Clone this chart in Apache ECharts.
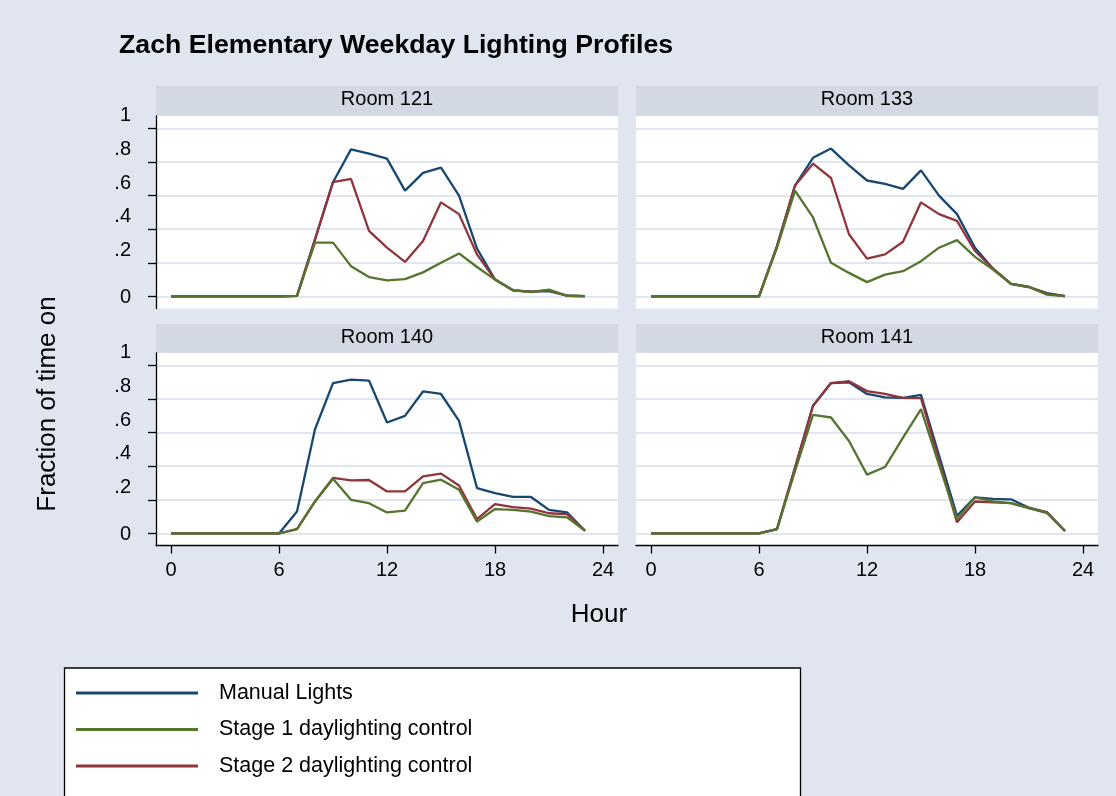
<!DOCTYPE html>
<html>
<head>
<meta charset="utf-8">
<title>Zach Elementary Weekday Lighting Profiles</title>
<script src="https://cdn.jsdelivr.net/npm/echarts@6/dist/echarts.min.js"></script>
<style>
  html, body { margin: 0; padding: 0; background: #e1e5ef; }
  #chart { width: 1116px; height: 796px; }
</style>
</head>
<body>
<div id="chart"></div>
<script>
// Hour of day (weekday average)
const hours = [0, 1, 2, 3, 4, 5, 6, 7, 8, 9, 10, 11, 12, 13, 14, 15, 16, 17, 18, 19, 20, 21, 22, 23];

// Fraction of time the lights are on, per room and control strategy
const room121Manual = [0, 0, 0, 0, 0, 0, 0, 0.003, 0.34, 0.68, 0.875, 0.85, 0.82, 0.63, 0.735, 0.767, 0.6, 0.285, 0.1, 0.036, 0.028, 0.032, 0.004, 0.002];
const room121Stage1 = [0, 0, 0, 0, 0, 0, 0, 0.003, 0.32, 0.32, 0.18, 0.115, 0.095, 0.103, 0.143, 0.2, 0.256, 0.175, 0.1, 0.036, 0.026, 0.04, 0.004, 0.002];
const room121Stage2 = [0, 0, 0, 0, 0, 0, 0, 0.003, 0.34, 0.68, 0.70, 0.39, 0.29, 0.205, 0.33, 0.56, 0.49, 0.25, 0.1, 0.036, 0.028, 0.036, 0.004, 0.002];

const room133Manual = [0, 0, 0, 0, 0, 0, 0, 0.30, 0.66, 0.825, 0.88, 0.78, 0.69, 0.67, 0.64, 0.75, 0.6, 0.49, 0.29, 0.165, 0.075, 0.056, 0.02, 0.002];
const room133Stage1 = [0, 0, 0, 0, 0, 0, 0, 0.29, 0.63, 0.47, 0.2, 0.14, 0.085, 0.13, 0.15, 0.21, 0.29, 0.335, 0.235, 0.16, 0.075, 0.056, 0.01, 0.002];
const room133Stage2 = [0, 0, 0, 0, 0, 0, 0, 0.30, 0.66, 0.79, 0.705, 0.37, 0.225, 0.25, 0.325, 0.56, 0.49, 0.45, 0.27, 0.165, 0.075, 0.056, 0.015, 0.002];

const room140Manual = [0, 0, 0, 0, 0, 0, 0, 0.13, 0.62, 0.895, 0.915, 0.91, 0.66, 0.70, 0.845, 0.83, 0.67, 0.27, 0.24, 0.217, 0.217, 0.14, 0.125, 0.016];
const room140Stage1 = [0, 0, 0, 0, 0, 0, 0, 0.026, 0.19, 0.325, 0.2, 0.18, 0.125, 0.135, 0.3, 0.32, 0.26, 0.07, 0.145, 0.14, 0.13, 0.103, 0.095, 0.016];
const room140Stage2 = [0, 0, 0, 0, 0, 0, 0, 0.026, 0.19, 0.33, 0.316, 0.318, 0.25, 0.25, 0.34, 0.356, 0.285, 0.085, 0.175, 0.157, 0.147, 0.12, 0.115, 0.016];

const room141Manual = [0, 0, 0, 0, 0, 0, 0, 0.026, 0.39, 0.76, 0.895, 0.9, 0.83, 0.81, 0.807, 0.825, 0.465, 0.105, 0.215, 0.205, 0.203, 0.153, 0.125, 0.014];
const room141Stage1 = [0, 0, 0, 0, 0, 0, 0, 0.026, 0.37, 0.705, 0.69, 0.55, 0.35, 0.395, 0.57, 0.74, 0.41, 0.085, 0.215, 0.19, 0.18, 0.15, 0.12, 0.014];
const room141Stage2 = [0, 0, 0, 0, 0, 0, 0, 0.026, 0.39, 0.76, 0.895, 0.906, 0.847, 0.83, 0.807, 0.805, 0.435, 0.066, 0.19, 0.185, 0.18, 0.15, 0.125, 0.014];

// Panel titles and axis ticks
const roomNames = ['Room 121', 'Room 133', 'Room 140', 'Room 141'];
const seriesNames = ['Manual Lights', 'Stage 1 daylighting control', 'Stage 2 daylighting control'];
const xTickValues = [0, 6, 12, 18, 24];
const yTickValues = [0, 0.2, 0.4, 0.6, 0.8, 1];
const yTickLabels = ['0', '.2', '.4', '.6', '.8', '1'];

const panelData = [
  [room121Manual, room121Stage1, room121Stage2],
  [room133Manual, room133Stage1, room133Stage2],
  [room140Manual, room140Stage1, room140Stage2],
  [room141Manual, room141Stage1, room141Stage2]
];

const FONT = '"Liberation Sans", Arial, Helvetica, sans-serif';
const COLORS = { manual: '#1a476f', stage1: '#55752f', stage2: '#90353b' };

// Panel layout (pixels)
const colLeft = [156, 636];
const rowTop = [116, 353];
const panelW = 462;
const panelH = 192.5;
const stripH = [30, 29];

const grids = [], xAxes = [], yAxes = [], series = [], graphics = [];

for (let p = 0; p < 4; p++) {
  const col = p % 2, row = Math.floor(p / 2);
  const isLeft = col === 0, isBottom = row === 1;
  grids.push({
    left: colLeft[col], top: rowTop[row], width: panelW, height: panelH,
    show: true, backgroundColor: '#ffffff', borderWidth: 0
  });
  xAxes.push({
    gridIndex: p, type: 'value', min: -0.8333, max: 24.8333,
    axisLine: { show: isBottom, onZero: false, lineStyle: { color: '#000', width: 1.3 } },
    axisTick: { show: isBottom, length: 8, customValues: xTickValues, lineStyle: { color: '#000', width: 1.3 } },
    axisLabel: {
      show: isBottom, customValues: xTickValues, margin: 15,
      color: '#000', fontSize: 20, fontFamily: FONT
    },
    splitLine: { show: false }
  });
  yAxes.push({
    gridIndex: p, type: 'value', min: -0.072, max: 1.074,
    axisLine: { show: isLeft, onZero: false, lineStyle: { color: '#000', width: 1.3 } },
    axisTick: { show: isLeft, length: 8, customValues: yTickValues, lineStyle: { color: '#000', width: 1.3 } },
    axisLabel: {
      show: isLeft, customValues: yTickValues, margin: 25,
      color: '#000', fontSize: 20, fontFamily: FONT,
      formatter: function (v) {
        const i = yTickValues.findIndex(t => Math.abs(t - v) < 1e-6);
        const txt = i >= 0 ? yTickLabels[i] : String(v);
        return v === 0 ? '{z|' + txt + '}' : '{u|' + txt + '}';
      },
      rich: {
        u: { fontSize: 20, fontFamily: FONT, color: '#000', padding: [0, 0, 25, 0] },
        z: { fontSize: 20, fontFamily: FONT, color: '#000', padding: [3, 0, 0, 0] }
      }
    },
    splitLine: { show: true, lineStyle: { color: '#e0e5ef', width: 2 } }
  });

  // Draw order: manual first, then stage 2, stage 1 on top
  const order = [0, 2, 1];
  const colorList = [COLORS.manual, COLORS.stage1, COLORS.stage2];
  order.forEach(k => {
    series.push({
      type: 'line', name: seriesNames[k], xAxisIndex: p, yAxisIndex: p,
      data: hours.map((h, i) => [h, panelData[p][k][i]]),
      showSymbol: false, symbol: 'none',
      lineStyle: { color: colorList[k], width: 2.3 },
      itemStyle: { color: colorList[k] },
      animation: false
    });
  });

  // Panel header strip
  const stripTop = rowTop[row] - stripH[row];
  graphics.push({
    type: 'rect', silent: true,
    shape: { x: colLeft[col], y: stripTop, width: panelW, height: stripH[row] },
    style: { fill: '#d2d8e4' }
  });
  graphics.push({
    type: 'text', silent: true,
    x: colLeft[col] + panelW / 2, y: stripTop + 13,
    style: { text: roomNames[p], fill: '#000', font: '20px ' + FONT, textAlign: 'center', textVerticalAlign: 'middle' }
  });
}

// Axis titles
graphics.push({
  type: 'text', silent: true, x: 48, y: 404, rotation: Math.PI / 2,
  style: { text: 'Fraction of time on', fill: '#000', font: '26px ' + FONT, textAlign: 'center', textVerticalAlign: 'middle' }
});
graphics.push({
  type: 'text', silent: true, x: 599, y: 615,
  style: { text: 'Hour', fill: '#000', font: '26px ' + FONT, textAlign: 'center', textVerticalAlign: 'middle' }
});
// Legend frame
graphics.push({
  type: 'rect', silent: true, z: -1,
  shape: { x: 64.5, y: 668, width: 736, height: 160 },
  style: { fill: '#ffffff', stroke: '#000', lineWidth: 1.3 }
});

const chart = echarts.init(document.getElementById('chart'), null, { renderer: 'canvas' });
chart.setOption({
  backgroundColor: '#e1e5ef',
  animation: false,
  title: {
    text: 'Zach Elementary Weekday Lighting Profiles',
    left: 119, top: 31, padding: 0,
    textStyle: { fontFamily: FONT, fontSize: 26.7, fontWeight: 'bold', color: '#000', lineHeight: 30 }
  },
  legend: {
    orient: 'vertical', left: 76, top: 682, padding: 0,
    itemWidth: 122, itemHeight: 3, itemGap: 14.5,
    icon: 'rect',
    data: seriesNames,
    selectedMode: false,
    textStyle: { fontFamily: FONT, fontSize: 21.5, color: '#000', lineHeight: 22, padding: [0, 0, 0, 16] }
  },
  grid: grids,
  xAxis: xAxes,
  yAxis: yAxes,
  series: series,
  graphic: { elements: graphics }
});
</script>
</body>
</html>
